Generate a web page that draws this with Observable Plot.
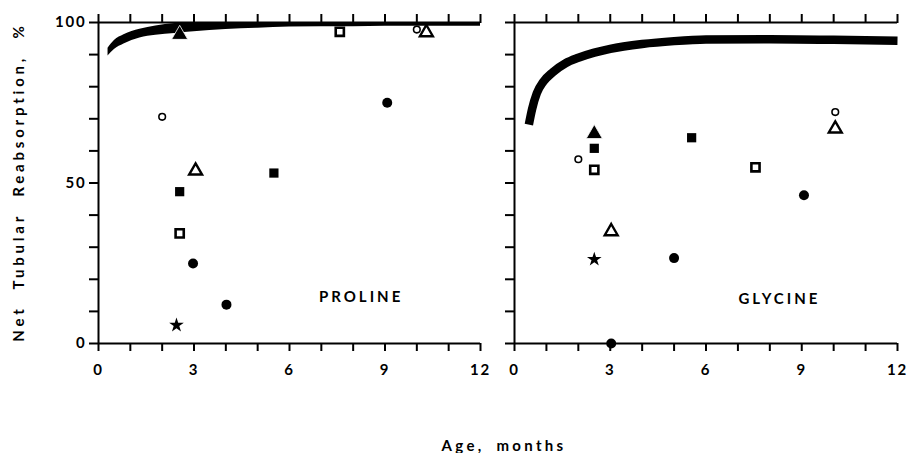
<!DOCTYPE html>
<html>
<head>
<meta charset="utf-8">
<script src="https://cdn.jsdelivr.net/npm/d3@7"></script>
<script src="https://cdn.jsdelivr.net/npm/@observablehq/plot@0.6"></script>
<style>
  html, body { margin: 0; padding: 0; background: white; }
  #wrap { position: relative; width: 907px; height: 453px; background: white; overflow: hidden; font-family: Lato, "DejaVu Sans", sans-serif; }
  #left, #right { position: absolute; top: 0; }
  #left { left: 0; }
  #right { left: 490px; }
  .ylab { position: absolute; left: 18px; top: 182px; transform: translate(-50%, -50%) rotate(-90deg); white-space: nowrap; font-weight: bold; font-size: 15px; letter-spacing: 3.8px; word-spacing: 9px; color: black; }
  .xlab { position: absolute; left: 504px; top: 445px; transform: translate(-50%, -50%); white-space: nowrap; font-weight: bold; font-size: 15px; letter-spacing: 3.3px; word-spacing: 5px; color: black; }
  svg text { letter-spacing: 1.8px; }
</style>
</head>
<body>
<div id="wrap">
  <div id="left"></div>
  <div id="right"></div>
  <div class="ylab">Net Tubular Reabsorption, %</div>
  <div class="xlab">Age, months</div>
</div>
<script>
// Axis ticks
const ageTicks = [0,1,2,3,4,5,6,7,8,9,10,11,12];
const ageLabels = [0,3,6,9,12];
const pctTicks = [0,10,20,30,40,50,60,70,80,90,100];
const pctLabels = [0,50,100];
const panelNames = ["PROLINE", "GLYCINE"];

// PROLINE points (age in months, % reabsorption)
const prolineFilledCircle = [{age:2.97,pct:24.9},{age:4.02,pct:12.1},{age:9.07,pct:75.0}];
const prolineOpenCircle = [{age:2.0,pct:70.6},{age:10.0,pct:97.8}];
const prolineFilledSquare = [{age:2.55,pct:47.3},{age:5.51,pct:53.1}];
const prolineOpenSquare = [{age:2.55,pct:34.3},{age:7.58,pct:97.1}];
const prolineFilledTriangle = [{age:2.55,pct:96.2}];
const prolineOpenTriangle = [{age:3.05,pct:53.8},{age:10.3,pct:96.9}];
const prolineStar = [{age:2.45,pct:5.7}];

// PROLINE normal band (lower and upper edge)
const prolineBandAge  = [0.3, 0.5, 0.8, 1.3, 1.8, 2.4, 3.0, 4.0, 5.0, 6.0, 8.0, 10.0, 12.0];
const prolineBandLow  = [89.6, 91.6, 93.3, 95.2, 96.0, 96.6, 97.1, 97.8, 98.2, 98.6, 98.7, 98.8, 98.8];
const prolineBandHigh = [92.0, 94.4, 96.2, 97.9, 98.9, 99.7, 100, 100, 100, 100, 100, 100, 100];

// GLYCINE points
const glycineFilledCircle = [{age:3.03,pct:0},{age:5.0,pct:26.6},{age:9.07,pct:46.2}];
const glycineOpenCircle = [{age:2.0,pct:57.4},{age:10.05,pct:72.1}];
const glycineFilledSquare = [{age:2.5,pct:60.8},{age:5.55,pct:64.1}];
const glycineOpenSquare = [{age:2.5,pct:54.1},{age:7.55,pct:54.9}];
const glycineFilledTriangle = [{age:2.5,pct:65.3}];
const glycineOpenTriangle = [{age:3.03,pct:34.9},{age:10.05,pct:66.9}];
const glycineStar = [{age:2.5,pct:26.2}];

// GLYCINE normal curve
const glycineCurveAge = [0.45, 0.55, 0.7, 0.9, 1.2, 1.6, 2.0, 2.5, 3.0, 4.0, 5.0, 6.0, 8.0, 10.0, 12.0];
const glycineCurvePct = [68.2, 73.0, 78.0, 81.5, 84.5, 87.3, 89.0, 90.6, 91.8, 93.3, 94.2, 94.7, 94.8, 94.6, 94.3];

const prolineBand = prolineBandAge.map((a, i) => ({age: a, low: prolineBandLow[i], high: prolineBandHigh[i]}));
const glycineCurve = glycineCurveAge.map((a, i) => ({age: a, pct: glycineCurvePct[i]}));

function pointMarks(fc, oc, fs, os, ft, ot, st) {
  return [
    Plot.dot(fc, {x: "age", y: "pct", symbol: "circle", r: 5, fill: "black"}),
    Plot.dot(oc, {x: "age", y: "pct", symbol: "circle", r: 3.3, fill: "white", stroke: "black", strokeWidth: 1.6}),
    Plot.dot(fs, {x: "age", y: "pct", symbol: "square", r: 5.2, fill: "black"}),
    Plot.dot(os, {x: "age", y: "pct", symbol: "square", r: 4.6, fill: "white", stroke: "black", strokeWidth: 2.6}),
    Plot.dot(ft, {x: "age", y: "pct", symbol: "triangle", r: 6, fill: "black", stroke: "white", strokeWidth: 0.8}),
    Plot.dot(ot, {x: "age", y: "pct", symbol: "triangle", r: 4.8, fill: "white", stroke: "black", strokeWidth: 2.4}),
    Plot.dot(st, {x: "age", y: "pct", symbol: "star", r: 4.6, fill: "black"})
  ];
}

function frameMarks(showY) {
  return [
    Plot.ruleY([0, 100], {strokeWidth: 2}),
    Plot.ruleX([0], {strokeWidth: 2}),
    Plot.axisX(ageTicks, {anchor: "top", tickSize: 9, strokeWidth: 2, tickFormat: () => "", label: null}),
    Plot.axisX(ageTicks, {anchor: "bottom", tickSize: 8, tickPadding: 13, strokeWidth: 2, tickFormat: d => ageLabels.includes(d) ? String(d) : "", label: null}),
    Plot.axisY(pctTicks, {anchor: "left", tickSize: 9, tickPadding: 3, strokeWidth: 2, tickFormat: d => (showY && pctLabels.includes(d)) ? String(d) : "", label: null})
  ];
}

const common = {
  height: 390,
  marginTop: 22,
  marginBottom: 47,
  x: {domain: [0, 12]},
  y: {domain: [0, 100]},
  style: {fontFamily: "Lato, 'DejaVu Sans', sans-serif", fontSize: "15px", fontWeight: "bold", color: "black", background: "transparent", overflow: "visible"}
};

const left = Plot.plot({
  ...common,
  width: 490,
  marginLeft: 98,
  marginRight: 10,
  marks: [
    Plot.areaY(prolineBand, {x: "age", y1: "low", y2: "high", fill: "black", curve: "monotone-x"}),
    ...frameMarks(true),
    ...pointMarks(prolineFilledCircle, prolineOpenCircle, prolineFilledSquare, prolineOpenSquare, prolineFilledTriangle, prolineOpenTriangle, prolineStar),
    Plot.text([panelNames[0]], {x: 8.25, y: 14.3, text: d => d, fontSize: 15, fontWeight: "bold"})
  ]
});

const right = Plot.plot({
  ...common,
  width: 417,
  marginLeft: 24,
  marginRight: 10,
  marks: [
    Plot.line(glycineCurve, {x: "age", y: "pct", stroke: "black", strokeWidth: 8.5, curve: "monotone-x", strokeLinecap: "butt"}),
    ...frameMarks(false),
    ...pointMarks(glycineFilledCircle, glycineOpenCircle, glycineFilledSquare, glycineOpenSquare, glycineFilledTriangle, glycineOpenTriangle, glycineStar),
    Plot.text([panelNames[1]], {x: 8.3, y: 13.8, text: d => d, fontSize: 15, fontWeight: "bold"})
  ]
});

document.getElementById("left").appendChild(left);
document.getElementById("right").appendChild(right);

for (const svg of [left, right]) {
  d3.select(svg).selectAll("text").filter(function() { return panelNames.includes(this.textContent); })
    .style("letter-spacing", "3px");
}
</script>
</body>
</html>
